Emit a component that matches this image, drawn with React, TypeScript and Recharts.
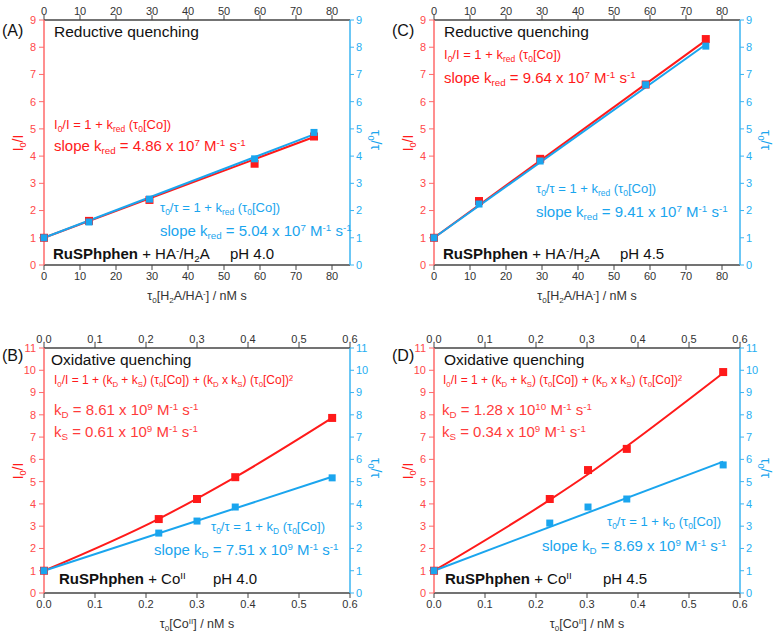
import React from "react";
import { ComposedChart, Line, Scatter, XAxis, YAxis } from "recharts";

const FONT = '"Liberation Sans", Arial, sans-serif';
const RED = "#ff1a1a";
const BLUE = "#1aa5ee";
const RED_AXIS = "#ff6a6a";
const BLUE_AXIS = "#3bb4f2";
const GREY = "#444";

// (A) reductive quenching, pH 4.0
const xA = [0, 12.5, 29.3, 58.5, 75];
const redA = [1, 1.62, 2.39, 3.72, 4.72];
const blueA = [1, 1.58, 2.42, 3.9, 4.87];
const fitXA = [0, 75];
const redFitA = [1, 4.7];
const blueFitA = [1, 4.8];

// (C) reductive quenching, pH 4.5
const xC = [0, 12.5, 29.5, 58.8, 75.5];
const redC = [1, 2.35, 3.9, 6.63, 8.3];
const blueC = [1, 2.24, 3.82, 6.62, 8.04];
const fitXC = [0, 75.5];
const redFitC = [1, 8.25];
const blueFitC = [1, 8.1];

// (B) oxidative quenching, pH 4.0
const xB = [0, 0.225, 0.3, 0.375, 0.565];
const redB = [1, 3.32, 4.22, 5.2, 7.86];
const blueB = [1, 2.69, 3.23, 3.86, 5.17];
const redFitB = [1, 3.33, 4.24, 5.2, 7.86];
const fitXB = [0, 0.565];
const blueFitB = [1, 5.22];

// (D) oxidative quenching, pH 4.5
const xD = [0, 0.227, 0.302, 0.378, 0.567];
const redD = [1, 4.22, 5.52, 6.47, 9.92];
const blueD = [1, 3.14, 3.86, 4.22, 5.75];
const redFitD = [1, 4.18, 5.33, 6.59, 9.88];
const fitXD = [0, 0.567];
const blueFitD = [1, 5.9];

// axes
const xTicksRed = [0, 10, 20, 30, 40, 50, 60, 70, 80];
const xMinorRed = [5, 15, 25, 35, 45, 55, 65, 75];
const yTicksRed = [0, 1, 2, 3, 4, 5, 6, 7, 8, 9];
const xTicksOx = [0, 0.1, 0.2, 0.3, 0.4, 0.5, 0.6];
const xMinorOx = [0.05, 0.15, 0.25, 0.35, 0.45, 0.55];
const yTicksOx = [0, 1, 2, 3, 4, 5, 6, 7, 8, 9, 10, 11];

const halves = (t: number[]) => t.slice(0, -1).map((v) => v + 0.5);
const pts = (x: number[], y: number[]) => x.map((v, i) => ({ x: v, y: y[i] }));

const square = (color: string, s: number) => (p: any) =>
  <rect x={p.cx - s / 2} y={p.cy - s / 2} width={s} height={s} fill={color} />;
const nothing = () => <g />;

const Sub = ({ children }: any) => (
  <span style={{ fontSize: "65%", position: "relative", top: "0.35em" }}>{children}</span>
);
const Sup = ({ children }: any) => (
  <span style={{ fontSize: "65%", position: "relative", top: "-0.55em" }}>{children}</span>
);

const T = ({ left, top, size, color = "#111", children }: any) => (
  <div style={{ position: "absolute", left, top, fontSize: size, color, lineHeight: 1, whiteSpace: "nowrap" }}>
    {children}
  </div>
);

function Panel(props: any) {
  const { x, red, blue, fitX, redFit, blueFit, redFitX, xDomain, xTicks, xMinor, yDomain, yTicks, fmt, left, top, children } = props;
  const tickStyle = { fontSize: 11, fontFamily: FONT };
  const redPts = pts(x, red);
  return (
    <div style={{ position: "absolute", left, top, width: 390, height: 310 }}>
      <ComposedChart width={390} height={310} margin={{ top: 0, right: 10, bottom: 0, left: 14 }}>
        <XAxis xAxisId="b1" orientation="bottom" type="number" dataKey="x" domain={xDomain} ticks={xMinor} height={0} tick={false} tickSize={3} axisLine={false} tickLine={{ stroke: GREY }} />
        <XAxis xAxisId="b2" orientation="bottom" type="number" dataKey="x" domain={xDomain} ticks={xTicks} height={45} tickSize={5} tickMargin={2} tickFormatter={fmt} interval={0} stroke={GREY} tick={{ ...tickStyle, fill: "#333" }} axisLine={{ stroke: GREY, strokeWidth: 1.5 }} />
        <XAxis xAxisId="t1" orientation="top" type="number" dataKey="x" domain={xDomain} ticks={xMinor} height={0} tick={false} tickSize={3} axisLine={false} tickLine={{ stroke: GREY }} />
        <XAxis xAxisId="t2" orientation="top" type="number" dataKey="x" domain={xDomain} ticks={xTicks} height={20} tickSize={5} tickMargin={0} tickFormatter={fmt} interval={0} stroke={GREY} tick={{ ...tickStyle, fill: "#333" }} axisLine={{ stroke: GREY, strokeWidth: 1.5 }} />
        <YAxis yAxisId="l1" orientation="left" type="number" dataKey="y" domain={yDomain} ticks={halves(yTicks)} width={0} tick={false} tickSize={3} axisLine={false} tickLine={{ stroke: RED_AXIS }} />
        <YAxis yAxisId="l2" orientation="left" type="number" dataKey="y" domain={yDomain} ticks={yTicks} width={30} tickSize={5} tickMargin={3} interval={0} stroke={RED_AXIS} tick={{ ...tickStyle, fill: "#ff4a4a" }} axisLine={{ stroke: RED_AXIS, strokeWidth: 1.5 }} />
        <YAxis yAxisId="r1" orientation="right" type="number" dataKey="y" domain={yDomain} ticks={halves(yTicks)} width={0} tick={false} tickSize={3} axisLine={false} tickLine={{ stroke: BLUE_AXIS }} />
        <YAxis yAxisId="r2" orientation="right" type="number" dataKey="y" domain={yDomain} ticks={yTicks} width={30} tickSize={4} tickMargin={2} interval={0} stroke={BLUE_AXIS} tick={{ ...tickStyle, fill: "#26aef2" }} axisLine={{ stroke: BLUE_AXIS, strokeWidth: 1.5 }} />
        {/* invisible series so the secondary axes get drawn */}
        <Scatter xAxisId="t2" yAxisId="l1" data={redPts} dataKey="y" shape={nothing} isAnimationActive={false} />
        <Scatter xAxisId="t1" yAxisId="r1" data={redPts} dataKey="y" shape={nothing} isAnimationActive={false} />
        <Scatter xAxisId="b1" yAxisId="r1" data={redPts} dataKey="y" shape={nothing} isAnimationActive={false} />
        <Line xAxisId="b2" yAxisId="l2" data={pts(redFitX || fitX, redFit)} dataKey="y" type={redFitX ? "monotone" : "linear"} stroke={RED} strokeWidth={2} dot={false} isAnimationActive={false} />
        <Line xAxisId="b2" yAxisId="r2" data={pts(fitX, blueFit)} dataKey="y" type="linear" stroke={BLUE} strokeWidth={2} dot={false} isAnimationActive={false} />
        <Scatter xAxisId="b2" yAxisId="l2" data={redPts} dataKey="y" shape={square(RED, 8)} isAnimationActive={false} />
        <Scatter xAxisId="b2" yAxisId="r2" data={pts(x, blue)} dataKey="y" shape={square(BLUE, 7)} isAnimationActive={false} />
      </ComposedChart>
      <div style={{ position: "absolute", left: 18, top: 143, transform: "translate(-50%,-50%) rotate(-90deg)", color: RED, fontSize: 14, whiteSpace: "nowrap", lineHeight: 1 }}>
        I<Sub>0</Sub>/I
      </div>
      <div style={{ position: "absolute", left: 376, top: 140, transform: "translate(-50%,-50%) rotate(90deg)", color: BLUE, fontSize: 14, whiteSpace: "nowrap", lineHeight: 1 }}>
        τ<Sub>0</Sub>/τ
      </div>
      {children}
    </div>
  );
}

const intFmt = (v: number) => String(v);
const decFmt = (v: number) => v.toFixed(1);

const redAxisTitle = (
  <div style={{ position: "absolute", left: 197, top: 290, transform: "translateX(-50%)", fontSize: 12.5, color: "#333", whiteSpace: "nowrap", lineHeight: 1 }}>
    τ<Sub>0</Sub>[H<Sub>2</Sub>A/HA<Sup>-</Sup>] / nM s
  </div>
);
const oxAxisTitle = (
  <div style={{ position: "absolute", left: 197, top: 290, transform: "translateX(-50%)", fontSize: 12.5, color: "#333", whiteSpace: "nowrap", lineHeight: 1 }}>
    τ<Sub>0</Sub>[Co<Sup>II</Sup>] / nM s
  </div>
);

export default function App() {
  return (
    <div style={{ position: "absolute", left: 0, top: 0, width: 780, height: 637, background: "#fff", fontFamily: FONT, overflow: "hidden" }}>
      {/* (A) */}
      <Panel left={0} top={0} x={xA} red={redA} blue={blueA} fitX={fitXA} redFit={redFitA} blueFit={blueFitA} xDomain={[0, 85]} xTicks={xTicksRed} xMinor={xMinorRed} yDomain={[0, 9]} yTicks={yTicksRed} fmt={intFmt}>
        <T left={2} top={23} size={16}>(A)</T>
        <T left={54} top={24} size={15.5}>Reductive quenching</T>
        <T left={54} top={118} size={13} color={RED}>I<Sub>0</Sub>/I = 1 + k<Sub>red</Sub> (τ<Sub>0</Sub>[Co])</T>
        <T left={54} top={138} size={15} color={RED}>slope k<Sub>red</Sub> = 4.86 x 10<Sup>7</Sup> M<Sup>-1</Sup> s<Sup>-1</Sup></T>
        <T left={160} top={201} size={13} color={BLUE}>τ<Sub>0</Sub>/τ = 1 + k<Sub>red</Sub> (τ<Sub>0</Sub>[Co])</T>
        <T left={160} top={223} size={15} color={BLUE}>slope k<Sub>red</Sub> = 5.04 x 10<Sup>7</Sup> M<Sup>-1</Sup> s<Sup>-1</Sup></T>
        <T left={53} top={246} size={15}><b>RuSPhphen</b> + HA<Sup>-</Sup>/H<Sub>2</Sub>A</T>
        <T left={230} top={246} size={15}>pH 4.0</T>
        {redAxisTitle}
      </Panel>
      {/* (C) */}
      <Panel left={390} top={0} x={xC} red={redC} blue={blueC} fitX={fitXC} redFit={redFitC} blueFit={blueFitC} xDomain={[0, 85]} xTicks={xTicksRed} xMinor={xMinorRed} yDomain={[0, 9]} yTicks={yTicksRed} fmt={intFmt}>
        <T left={2} top={23} size={16}>(C)</T>
        <T left={54} top={24} size={15.5}>Reductive quenching</T>
        <T left={54} top={48} size={13} color={RED}>I<Sub>0</Sub>/I = 1 + k<Sub>red</Sub> (τ<Sub>0</Sub>[Co])</T>
        <T left={54} top={70} size={15} color={RED}>slope k<Sub>red</Sub> = 9.64 x 10<Sup>7</Sup> M<Sup>-1</Sup> s<Sup>-1</Sup></T>
        <T left={146} top={182} size={13} color={BLUE}>τ<Sub>0</Sub>/τ = 1 + k<Sub>red</Sub> (τ<Sub>0</Sub>[Co])</T>
        <T left={146} top={204} size={15} color={BLUE}>slope k<Sub>red</Sub> = 9.41 x 10<Sup>7</Sup> M<Sup>-1</Sup> s<Sup>-1</Sup></T>
        <T left={53} top={246} size={15}><b>RuSPhphen</b> + HA<Sup>-</Sup>/H<Sub>2</Sub>A</T>
        <T left={230} top={246} size={15}>pH 4.5</T>
        {redAxisTitle}
      </Panel>
      {/* (B) */}
      <Panel left={0} top={328} x={xB} red={redB} blue={blueB} fitX={fitXB} redFitX={xB} redFit={redFitB} blueFit={blueFitB} xDomain={[0, 0.6]} xTicks={xTicksOx} xMinor={xMinorOx} yDomain={[0, 11]} yTicks={yTicksOx} fmt={decFmt}>
        <T left={2} top={20} size={16}>(B)</T>
        <T left={51} top={24} size={15.5}>Oxidative quenching</T>
        <T left={54} top={46} size={12} color={RED}>I<Sub>0</Sub>/I = 1 + (k<Sub>D</Sub> + k<Sub>S</Sub>) (τ<Sub>0</Sub>[Co]) + (k<Sub>D</Sub> x k<Sub>S</Sub>) (τ<Sub>0</Sub>[Co])²</T>
        <T left={54} top={74} size={15} color="#ff3b3b">k<Sub>D</Sub> = 8.61 x 10<Sup>9</Sup> M<Sup>-1</Sup> s<Sup>-1</Sup></T>
        <T left={54} top={96} size={15} color="#ff3b3b">k<Sub>S</Sub> = 0.61 x 10<Sup>9</Sup> M<Sup>-1</Sup> s<Sup>-1</Sup></T>
        <T left={211} top={192} size={13} color={BLUE}>τ<Sub>0</Sub>/τ = 1 + k<Sub>D</Sub> (τ<Sub>0</Sub>[Co])</T>
        <T left={154} top={214} size={15} color={BLUE}>slope k<Sub>D</Sub> = 7.51 x 10<Sup>9</Sup> M<Sup>-1</Sup> s<Sup>-1</Sup></T>
        <T left={59} top={243} size={15}><b>RuSPhphen</b> + Co<Sup>II</Sup></T>
        <T left={213} top={243} size={15}>pH 4.0</T>
        {oxAxisTitle}
      </Panel>
      {/* (D) */}
      <Panel left={390} top={328} x={xD} red={redD} blue={blueD} fitX={fitXD} redFitX={xD} redFit={redFitD} blueFit={blueFitD} xDomain={[0, 0.6]} xTicks={xTicksOx} xMinor={xMinorOx} yDomain={[0, 11]} yTicks={yTicksOx} fmt={decFmt}>
        <T left={2} top={20} size={16}>(D)</T>
        <T left={54} top={24} size={15.5}>Oxidative quenching</T>
        <T left={53} top={46} size={12} color={RED}>I<Sub>0</Sub>/I = 1 + (k<Sub>D</Sub> + k<Sub>S</Sub>) (τ<Sub>0</Sub>[Co]) + (k<Sub>D</Sub> x k<Sub>S</Sub>) (τ<Sub>0</Sub>[Co])²</T>
        <T left={52} top={74} size={15} color="#ff3b3b">k<Sub>D</Sub> = 1.28 x 10<Sup>10</Sup> M<Sup>-1</Sup> s<Sup>-1</Sup></T>
        <T left={52} top={96} size={15} color="#ff3b3b">k<Sub>S</Sub> = 0.34 x 10<Sup>9</Sup> M<Sup>-1</Sup> s<Sup>-1</Sup></T>
        <T left={217} top={187} size={13} color={BLUE}>τ<Sub>0</Sub>/τ = 1 + k<Sub>D</Sub> (τ<Sub>0</Sub>[Co])</T>
        <T left={152} top={210} size={15} color={BLUE}>slope k<Sub>D</Sub> =  8.69 x 10<Sup>9</Sup> M<Sup>-1</Sup> s<Sup>-1</Sup></T>
        <T left={55} top={243} size={15}><b>RuSPhphen</b> + Co<Sup>II</Sup></T>
        <T left={213} top={243} size={15}>pH 4.5</T>
        {oxAxisTitle}
      </Panel>
    </div>
  );
}
